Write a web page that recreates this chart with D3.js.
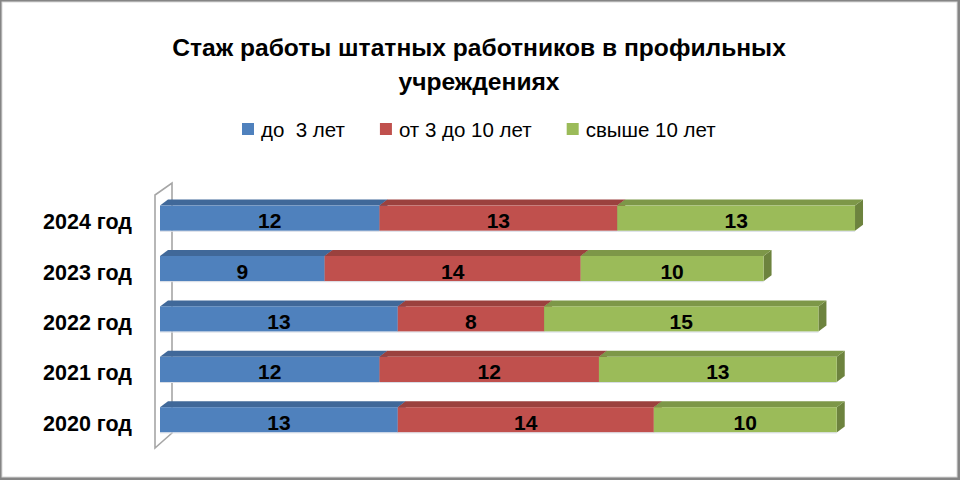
<!DOCTYPE html>
<html>
<head>
<meta charset="utf-8">
<script src="https://cdn.jsdelivr.net/npm/d3@7"></script>
<style>
  body { margin: 0; background: #fff; }
  svg text { font-family: "Liberation Sans", Arial, sans-serif; }
</style>
</head>
<body>
<div id="chart"></div>
<script>
// chart data
const categories = ["2024 год", "2023 год", "2022 год", "2021 год", "2020 год"];
const seriesNames = ["до  3 лет", "от 3 до 10 лет", "свыше 10 лет"];
const upTo3 = [12, 9, 13, 12, 13];
const from3to10 = [13, 14, 8, 12, 14];
const over10 = [13, 10, 15, 13, 10];
const titleLines = ["Стаж работы штатных работников в профильных", "учреждениях"];

const colors = ["#4F81BD", "#C0504D", "#9BBB59"];

const W = 960, H = 480;
const depth = {dx: 8, dy: 6};

const rows = categories.map((c, i) => ({
	cat: c, s0: upTo3[i], s1: from3to10[i], s2: over10[i]
}));

const svg = d3.select("#chart").append("svg")
	.attr("width", W).attr("height", H);

// outer frame
svg.append("rect").attr("width", W).attr("height", H).attr("fill", "#858585");
svg.append("rect")
	.attr("x", 2).attr("y", 2).attr("width", W - 5).attr("height", H - 5)
	.attr("fill", "#fff").attr("stroke", "#d9d9d9").attr("stroke-width", 1);

// title
svg.append("text")
	.attr("x", 479).attr("y", 56)
	.attr("text-anchor", "middle")
	.attr("font-weight", "bold").attr("font-size", 24.6)
	.selectAll("tspan").data(titleLines).join("tspan")
	.attr("x", 479).attr("dy", (d, i) => i ? 34 : 0)
	.text(d => d);

// scales
const x = d3.scaleLinear().domain([0, 40]).range([160, 891.6]);
const y = d3.scaleBand().domain(categories).range([193, 445])
	.paddingInner(0.5).paddingOuter(0.25);

const stack = d3.stack().keys(["s0", "s1", "s2"]);
const series = stack(rows);

// side wall
const y0 = y.range()[0], y1 = y.range()[1];
const wallX = x(0) - 5;
svg.append("path")
	.attr("d", `M${wallX},${y1 + 3}L${wallX},${y0 + 2}L${wallX + 17},${y0 - 10}L${wallX + 17},${y1 - 12}Z`)
	.attr("fill", "none").attr("stroke", "#a6a6a6").attr("stroke-width", 1.6);

// bars (3d)
series.forEach((s, k) => {
	const c = d3.color(colors[k]);
	const g = svg.append("g").attr("class", "series-" + k);
	s.forEach((d, i) => {
		const xa = x(d[0]), xb = x(d[1]);
		const t = y(categories[i]), b = t + y.bandwidth();
		// right side
		g.append("path")
			.attr("d", `M${xb},${t}L${xb + depth.dx},${t - depth.dy}L${xb + depth.dx},${b - depth.dy}L${xb},${b}Z`)
			.attr("fill", c.darker(1.0));
		// top
		g.append("path")
			.attr("d", `M${xa},${t}L${xa + depth.dx},${t - depth.dy}L${xb + depth.dx},${t - depth.dy}L${xb},${t}Z`)
			.attr("fill", c.darker(0.6));
		// front
		g.append("rect")
			.attr("x", xa).attr("y", t)
			.attr("width", xb - xa).attr("height", y.bandwidth())
			.attr("fill", c);
		g.append("line")
			.attr("x1", xa).attr("x2", xb).attr("y1", b + 0.5).attr("y2", b + 0.5)
			.attr("stroke", "#d8dde6").attr("stroke-width", 1);
	});
});

// value labels
series.forEach((s, k) => {
	svg.append("g").selectAll("text").data(s).join("text")
		.attr("x", d => (x(d[0]) + x(d[1])) / 2)
		.attr("y", (d, i) => y(categories[i]) + y.bandwidth() / 2 + 10)
		.attr("text-anchor", "middle")
		.attr("font-weight", "bold").attr("font-size", 21)
		.attr("fill", "#000")
		.text(d => d[1] - d[0]);
});

// category axis
const yAxis = d3.axisLeft(y).tickSize(0).tickPadding(0);
svg.append("g")
	.attr("transform", "translate(132,11)")
	.call(yAxis)
	.call(g => g.select(".domain").remove())
	.call(g => g.selectAll("text")
		.attr("font-family", "Liberation Sans, Arial, sans-serif")
		.attr("font-weight", "bold").attr("font-size", 21.5)
		.attr("fill", "#000").attr("dy", "0"));

// legend
const legend = svg.append("g").attr("transform", "translate(242,137)");
let lx = 0;
seriesNames.forEach((name, k) => {
	const it = legend.append("g").attr("transform", `translate(${lx},0)`);
	it.append("rect").attr("x", 0).attr("y", -14).attr("width", 12).attr("height", 12)
		.attr("fill", colors[k]);
	const t = it.append("text").attr("x", 19).attr("y", 0)
		.attr("font-size", 20.5).attr("fill", "#000")
		.attr("xml:space", "preserve").style("white-space", "pre")
		.text(name);
	lx += 19 + t.node().getComputedTextLength() + 35;
});
</script>
</body>
</html>
